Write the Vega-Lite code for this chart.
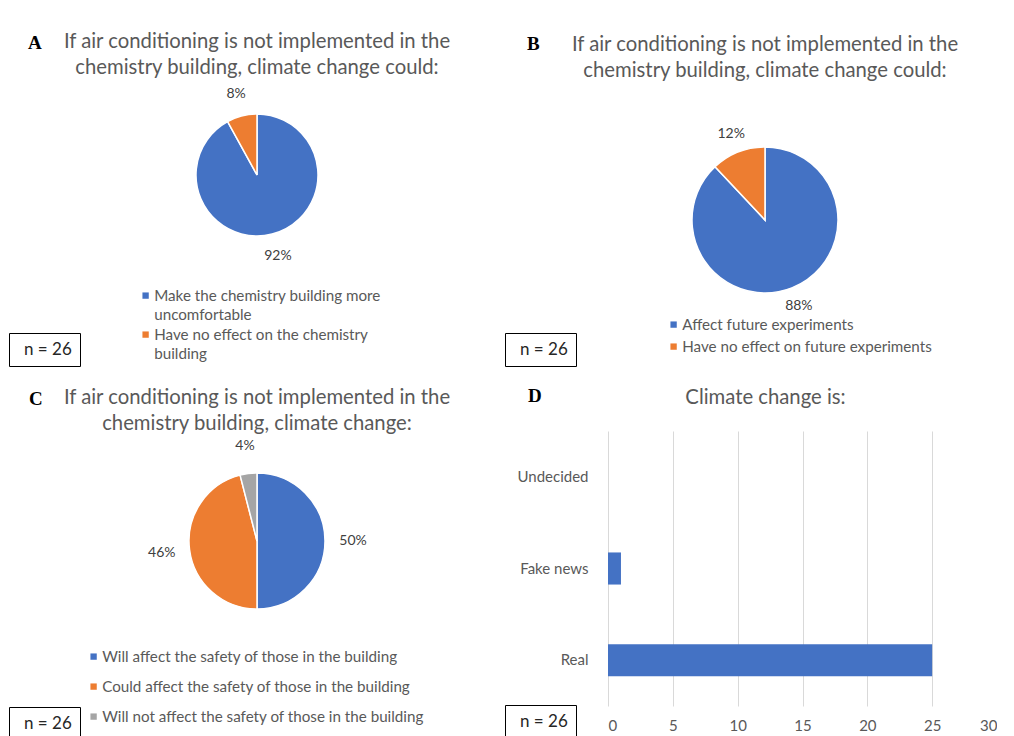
{
  "$schema": "https://vega.github.io/schema/vega-lite/v6.json",
  "background": "white",
  "padding": {"left": 8, "top": 31, "right": 0, "bottom": 0},
  "bounds": "flush",
  "columns": 2,
  "spacing": {"row": 93, "column": 105},
  "resolve": {
    "scale": {"color": "independent", "shape": "independent", "theta": "independent"},
    "legend": {"color": "independent", "shape": "independent"}
  },
  "config": {
    "font": "Lato",
    "view": {"stroke": null},
    "title": {"frame": "group", "fontWeight": "normal", "color": "#595959", "fontSize": 20.3, "lineHeight": 26, "anchor": "middle"},
    "legend": {"labelFontSize": 15.2, "labelColor": "#595959", "labelFont": "Lato"},
    "axis": {"labelFont": "Lato"},
    "style": {"guide-label": {"lineHeight": 19.5}}
  },
  "concat": [
    {
      "width": 492,
      "height": 146,
      "title": {"text": ["If air conditioning is not implemented in the", "chemistry building, climate change could:"], "offset": -45},
      "layer": [
        {
          "data": {"values": [
            {"answer": "Make the chemistry building more uncomfortable", "pct": 0.92, "idx": 1},
            {"answer": "Have no effect on the chemistry building", "pct": 0.08, "idx": 2}
          ]},
          "layer": [
            {
              "mark": {"type": "arc", "outerRadius": 61, "stroke": "white", "strokeWidth": 1.5},
              "encoding": {
                "theta": {"field": "pct", "type": "quantitative", "stack": true},
                "order": {"field": "idx", "type": "quantitative"},
                "color": {"field": "answer", "type": "nominal",
                  "scale": {"domain": ["Make the chemistry building more uncomfortable", "Have no effect on the chemistry building"], "range": ["#4472C4", "#ED7D31"]},
                  "legend": {"title": null, "orient": "none", "legendX": 127, "legendY": 186, "padding": 0, "symbolType": "square", "symbolSize": 40, "symbolStrokeWidth": 0, "labelOffset": 1, "rowPadding": 3, "labelLimit": 400,
                    "labelExpr": "datum.label == 'Make the chemistry building more uncomfortable' ? ['Make the chemistry building more', 'uncomfortable'] : ['Have no effect on the chemistry', 'building']",
                    "encode": {"labels": {"update": {"lineHeight": {"value": 19.5}}}}}
                }
              }
            },
            {
              "mark": {"type": "text", "radius": 84, "fontSize": 14, "color": "#404040"},
              "encoding": {
                "theta": {"field": "pct", "type": "quantitative", "stack": true},
                "order": {"field": "idx", "type": "quantitative"},
                "text": {"field": "pct", "type": "quantitative", "format": ".0%"}
              }
            }
          ]
        },
        {
          "data": {"values": [{"note": "n = 26"}]},
          "mark": {"type": "point", "opacity": 0},
          "encoding": {"shape": {"field": "note", "type": "nominal",
            "legend": {"title": null, "orient": "none", "legendX": -2, "legendY": 231, "padding": 8, "symbolSize": 1, "symbolStrokeWidth": 0, "labelOffset": -10, "labelFontSize": 17, "labelColor": "#262626", "strokeColor": "black"}}}
        },
        {
          "data": {"values": [{"panel": "A"}]},
          "mark": {"type": "point", "opacity": 0},
          "encoding": {"shape": {"field": "panel", "type": "nominal",
            "legend": {"title": null, "orient": "none", "legendX": -3, "legendY": -69, "padding": 0, "symbolSize": 1, "symbolStrokeWidth": 0, "labelOffset": 1, "labelFont": "Liberation Serif", "labelFontWeight": "bold", "labelFontSize": 19, "labelColor": "black"}}}
        }
      ],
      "resolve": {"scale": {"shape": "independent"}, "legend": {"shape": "independent"}}
    },
    {
      "width": 314,
      "height": 236,
      "title": {"text": ["If air conditioning is not implemented in the", "chemistry building, climate change could:"], "offset": -47},
      "layer": [
        {
          "data": {"values": [
            {"answer": "Affect future experiments", "pct": 0.88, "idx": 1},
            {"answer": "Have no effect on future experiments", "pct": 0.12, "idx": 2}
          ]},
          "layer": [
            {
              "mark": {"type": "arc", "outerRadius": 73, "stroke": "white", "strokeWidth": 1.5},
              "encoding": {
                "theta": {"field": "pct", "type": "quantitative", "stack": true},
                "order": {"field": "idx", "type": "quantitative"},
                "color": {"field": "answer", "type": "nominal",
                  "scale": {"domain": ["Affect future experiments", "Have no effect on future experiments"], "range": ["#4472C4", "#ED7D31"]},
                  "legend": {"title": null, "orient": "none", "legendX": 58, "legendY": 215, "padding": 0, "symbolType": "square", "symbolSize": 40, "symbolStrokeWidth": 0, "labelOffset": 1, "rowPadding": 6, "labelLimit": 400}
                }
              }
            },
            {
              "mark": {"type": "text", "radius": 92, "fontSize": 14, "color": "#404040"},
              "encoding": {
                "theta": {"field": "pct", "type": "quantitative", "stack": true},
                "order": {"field": "idx", "type": "quantitative"},
                "text": {"field": "pct", "type": "quantitative", "format": ".0%"}
              }
            }
          ]
        },
        {
          "data": {"values": [{"note": "n = 26"}]},
          "mark": {"type": "point", "opacity": 0},
          "encoding": {"shape": {"field": "note", "type": "nominal",
            "legend": {"title": null, "orient": "none", "legendX": -103, "legendY": 231, "padding": 8, "symbolSize": 1, "symbolStrokeWidth": 0, "labelOffset": -10, "labelFontSize": 17, "labelColor": "#262626", "strokeColor": "black"}}}
        },
        {
          "data": {"values": [{"panel": "B"}]},
          "mark": {"type": "point", "opacity": 0},
          "encoding": {"shape": {"field": "panel", "type": "nominal",
            "legend": {"title": null, "orient": "none", "legendX": -101, "legendY": -68, "padding": 0, "symbolSize": 1, "symbolStrokeWidth": 0, "labelOffset": 1, "labelFont": "Liberation Serif", "labelFontWeight": "bold", "labelFontSize": 19, "labelColor": "black"}}}
        }
      ],
      "resolve": {"scale": {"shape": "independent"}, "legend": {"shape": "independent"}}
    },
    {
      "width": 492,
      "height": 220,
      "title": {"text": ["If air conditioning is not implemented in the", "chemistry building, climate change:"], "offset": -45},
      "layer": [
        {
          "data": {"values": [
            {"answer": "Will affect the safety of those in the building", "pct": 0.50, "idx": 1},
            {"answer": "Could affect the safety of those in the building", "pct": 0.46, "idx": 2},
            {"answer": "Will not affect the safety of those in the building", "pct": 0.04, "idx": 3}
          ]},
          "layer": [
            {
              "mark": {"type": "arc", "outerRadius": 68, "stroke": "white", "strokeWidth": 1.5},
              "encoding": {
                "theta": {"field": "pct", "type": "quantitative", "stack": true},
                "order": {"field": "idx", "type": "quantitative"},
                "color": {"field": "answer", "type": "nominal",
                  "scale": {"domain": ["Will affect the safety of those in the building", "Could affect the safety of those in the building", "Will not affect the safety of those in the building"], "range": ["#4472C4", "#ED7D31", "#A5A5A5"]},
                  "legend": {"title": null, "orient": "none", "legendX": 75, "legendY": 218, "padding": 0, "symbolType": "square", "symbolSize": 40, "symbolStrokeWidth": 0, "labelOffset": 1, "rowPadding": 14, "labelLimit": 400}
                }
              }
            },
            {
              "mark": {"type": "text", "radius": 96, "fontSize": 14, "color": "#404040"},
              "encoding": {
                "theta": {"field": "pct", "type": "quantitative", "stack": true},
                "order": {"field": "idx", "type": "quantitative"},
                "text": {"field": "pct", "type": "quantitative", "format": ".0%"}
              }
            }
          ]
        },
        {
          "data": {"values": [{"note": "n = 26"}]},
          "mark": {"type": "point", "opacity": 0},
          "encoding": {"shape": {"field": "note", "type": "nominal",
            "legend": {"title": null, "orient": "none", "legendX": -2, "legendY": 276, "padding": 8, "symbolSize": 1, "symbolStrokeWidth": 0, "labelOffset": -10, "labelFontSize": 17, "labelColor": "#262626", "strokeColor": "black"}}}
        },
        {
          "data": {"values": [{"panel": "C"}]},
          "mark": {"type": "point", "opacity": 0},
          "encoding": {"shape": {"field": "panel", "type": "nominal",
            "legend": {"title": null, "orient": "none", "legendX": -2, "legendY": -42, "padding": 0, "symbolSize": 1, "symbolStrokeWidth": 0, "labelOffset": 1, "labelFont": "Liberation Serif", "labelFontWeight": "bold", "labelFontSize": 19, "labelColor": "black"}}}
        }
      ],
      "resolve": {"scale": {"shape": "independent"}, "legend": {"shape": "independent"}}
    },
    {
      "width": 389,
      "height": 275,
      "title": {"text": "Climate change is:", "offset": -22, "dx": -37},
      "layer": [
        {
          "data": {"values": [
            {"answer": "Undecided", "count": 0},
            {"answer": "Fake news", "count": 1},
            {"answer": "Real", "count": 25}
          ]},
          "mark": {"type": "bar", "color": "#4472C4"},
          "encoding": {
            "y": {"field": "answer", "type": "nominal", "sort": ["Undecided", "Fake news", "Real"],
              "scale": {"paddingInner": 0.65, "paddingOuter": 0.325},
              "axis": {"title": null, "domain": false, "ticks": false, "grid": false, "labelFontSize": 15, "labelColor": "#595959", "labelPadding": 20}},
            "x": {"field": "count", "type": "quantitative", "scale": {"domain": [0, 30]},
              "axis": {"title": null, "values": [0, 5, 10, 15, 20, 25, 30], "domain": false, "ticks": false, "grid": true, "gridColor": "#d9d9d9", "labelFontSize": 15, "labelColor": "#595959", "labelPadding": 12}}
          }
        },
        {
          "data": {"values": [{"note": "n = 26"}]},
          "mark": {"type": "point", "opacity": 0},
          "encoding": {"shape": {"field": "note", "type": "nominal",
            "legend": {"title": null, "orient": "none", "legendX": -103, "legendY": 274, "padding": 8, "symbolSize": 1, "symbolStrokeWidth": 0, "labelOffset": -10, "labelFontSize": 17, "labelColor": "#262626", "strokeColor": "black"}}}
        },
        {
          "data": {"values": [{"panel": "D"}]},
          "mark": {"type": "point", "opacity": 0},
          "encoding": {"shape": {"field": "panel", "type": "nominal",
            "legend": {"title": null, "orient": "none", "legendX": -100, "legendY": -45, "padding": 0, "symbolSize": 1, "symbolStrokeWidth": 0, "labelOffset": 1, "labelFont": "Liberation Serif", "labelFontWeight": "bold", "labelFontSize": 19, "labelColor": "black"}}}
        }
      ],
      "resolve": {"scale": {"shape": "independent"}, "legend": {"shape": "independent"}}
    }
  ]
}
